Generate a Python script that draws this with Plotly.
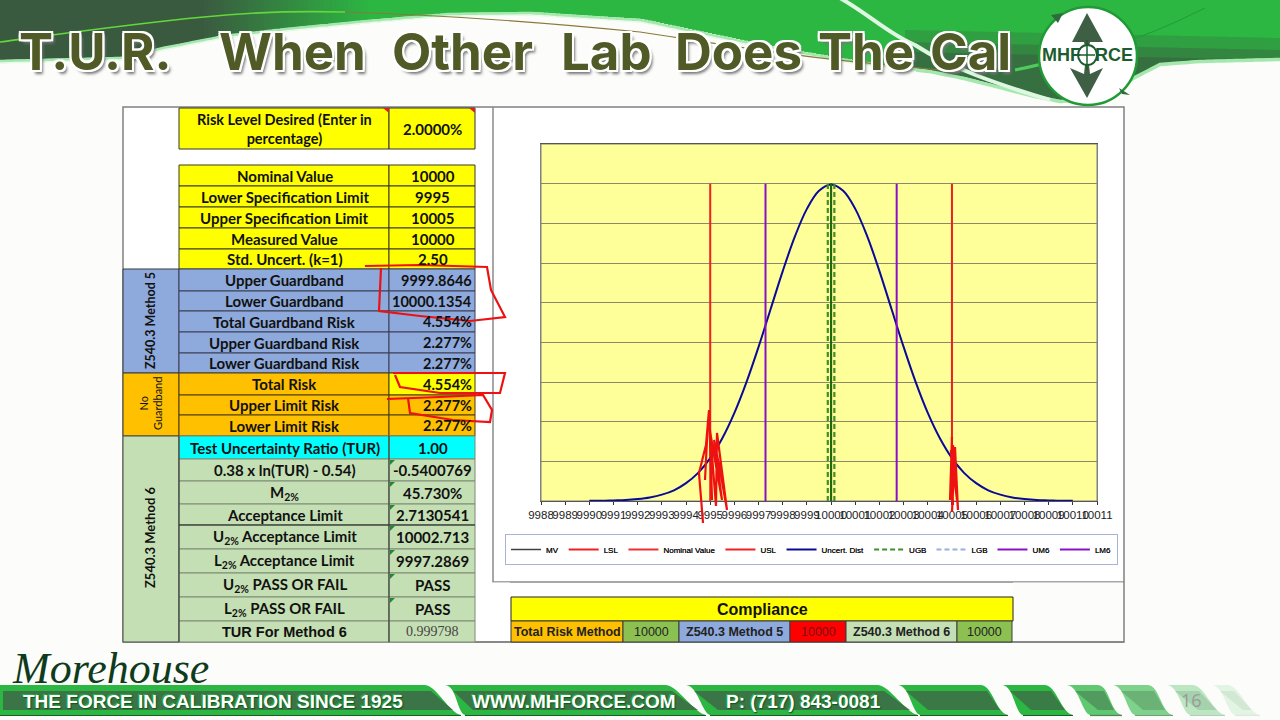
import numpy as np
import plotly.graph_objects as go

# ---- chart data
TICK_LABELS = [9988, 9989, 9990, 9991, 9992, 9993, 9994, 9995, 9996, 9997, 9998, 9999,
               10000, 10001, 10002, 10003, 10004, 10005, 10006, 10007, 10008, 10009, 10010, 10011]
CURVE_X = [9990, 9990.5, 9991, 9991.5, 9992, 9992.5, 9993, 9993.5, 9994, 9994.5, 9995, 9995.5,
           9996, 9996.5, 9997, 9997.5, 9998, 9998.5, 9999, 9999.5, 10000, 10000.5, 10001, 10001.5,
           10002, 10002.5, 10003, 10003.5, 10004, 10004.5, 10005, 10005.5, 10006, 10006.5,
           10007, 10007.5, 10008, 10008.5, 10009, 10009.5, 10010]
CURVE_Y = [0.0001, 0.0001, 0.0003, 0.0005, 0.001, 0.0018, 0.0032, 0.0054, 0.009, 0.0142, 0.0216, 0.0316,
           0.0444, 0.0599, 0.0777, 0.0968, 0.1159, 0.1333, 0.1473, 0.1564, 0.1596, 0.1564, 0.1473, 0.1333,
           0.1159, 0.0968, 0.0777, 0.0599, 0.0444, 0.0316, 0.0216, 0.0142, 0.009, 0.0054,
           0.0032, 0.0018, 0.001, 0.0005, 0.0003, 0.0001, 0.0001]
LINE_TOP = 0.16
MV = 10000
LSL = 9995
NOMINAL = 10000
USL = 10005
UGB = 9999.8646
LGB = 10000.1354
UM6 = 10002.713
LM6 = 9997.2869

# ---- table text
TITLE_WORDS = ["T.U.R.", "When", "Other", "Lab", "Does", "The", "Cal"]
TOP_LABELS = ["Nominal Value", "Lower Specification Limit", "Upper Specification Limit",
              "Measured Value", "Std. Uncert. (k=1)"]
TOP_VALUES = ["10000", "9995", "10005", "10000", "2.50"]
M5_LABELS = ["Upper Guardband", "Lower Guardband", "Total Guardband Risk",
             "Upper Guardband Risk", "Lower Guardband Risk"]
M5_VALUES = ["9999.8646", "10000.1354", "4.554%", "2.277%", "2.277%"]
NG_LABELS = ["Total Risk", "Upper Limit Risk", "Lower Limit Risk"]
NG_VALUES = ["4.554%", "2.277%", "2.277%"]
M6_LABELS = ["Test Uncertainty Ratio (TUR)", "0.38 x ln(TUR) - 0.54)", "M<sub>2%</sub>", "Acceptance Limit",
             "U<sub>2%</sub> Acceptance Limit", "L<sub>2%</sub> Acceptance Limit",
             "U<sub>2%</sub> PASS OR FAIL", "L<sub>2%</sub> PASS OR FAIL", "TUR For Method 6"]
M6_VALUES = ["1.00", "-0.5400769", "45.730%", "2.7130541", "10002.713", "9997.2869", "PASS", "PASS", "0.999798"]
COMPLIANCE = ["Total Risk Method", "10000", "Z540.3 Method 5", "10000", "Z540.3 Method 6", "10000"]

# ---- table layout, page pixels
TITLE_SPANS = [(25, 165), (217, 368), (391, 533), (561, 652), (675, 802), (821, 911), (930, 1011)]
TOP_EDGES = [165, 186, 207, 228, 249, 269]
M5_EDGES = [269, 291, 311, 332, 353, 373]
NG_EDGES = [373, 395, 415, 436]
M6_EDGES = [436, 459, 481, 504, 525, 549, 573, 597, 621, 642]
COMP_EDGES = [511, 623, 679, 790, 846, 957, 1012]
COMP_COLORS = ["#FFC000", "#8CC152", "#8EA9DB", "#FF0000", "#C5DFB4", "#8CC152"]

YELLOW = "#FFFF00"
BLUE = "#8EA9DB"
ORANGE = "#FFC000"
LGREEN = "#C5DFB4"
CYAN = "#00FFFF"
GREEN = "#2CB742"
DARK = "#3A5A40"
OLIVE = "#4F5A26"

shapes = []
notes = []


def rect(x0, y0, x1, y1, fill, line="#4a4a4a", width=1, layer="below"):
    shapes.append(dict(type="rect", xref="x", yref="y", x0=x0, y0=y0, x1=x1, y1=y1, fillcolor=fill,
                       line=dict(color=line, width=width), layer=layer))


def path(d, fill=None, line=None, width=1, opacity=1, layer="below"):
    s = dict(type="path", xref="x", yref="y", path=d, opacity=opacity, layer=layer,
             line=dict(color=line or "rgba(0,0,0,0)", width=width))
    if fill:
        s["fillcolor"] = fill
    shapes.append(s)


def poly(xs, ys):
    return "M" + " L".join(f"{a:.1f} {b:.1f}" for a, b in zip(xs, ys))


def text(x, y, t, size=15, color="#111111", font="Lato", weight=700, anchor="center", angle=0, shadow=None):
    f = dict(family=font, size=size, color=color, weight=weight)
    if shadow:
        f["shadow"] = shadow
    notes.append(dict(xref="x", yref="y", x=x, y=y, text=t, showarrow=False, xanchor=anchor, yanchor="middle",
                      textangle=angle, font=f, align="center"))


def mix(c1, c2, t):
    a = [int(c1[i:i + 2], 16) for i in (1, 3, 5)]
    b = [int(c2[i:i + 2], 16) for i in (1, 3, 5)]
    return "#" + "".join(f"{round(p + (q - p) * t):02x}" for p, q in zip(a, b))


# ---- header band
edge_x = [0, 122, 163, 224, 286, 367, 449, 530, 640, 750, 804, 857, 929, 964, 1035, 1060, 1100, 1133, 1160, 1200, 1280]
edge_y = [60, 57, 47, 35, 28, 20, 13, 12, 19, 42, 52, 61, 70, 77, 95, 100, 98, 77, 63, 60, 58]
xs = np.arange(0, 1284, 4)
ys = np.interp(xs, edge_x, edge_y)
for a, b in zip(xs, ys):
    t = min(max((a - 200) / 170, 0), 1)
    rect(a, -1, a + 4.5, b, mix(DARK, GREEN, t), line="rgba(0,0,0,0)", width=0)
for top, op in [(30, 0.25), (42, 0.35), (52, 0.5)]:
    lx = np.arange(905, 1284, 4)
    ly = np.interp(lx, edge_x, edge_y)
    # upper edge of the darker right part
    ux = np.interp(lx, [905, 1000, 1280], [top, top + 2, top + 8])
    ux = np.minimum(ux, ly)
    path(poly(list(lx) + list(lx[::-1]), list(ux) + list(ly[::-1])) + " Z", fill=DARK, opacity=op)
path(poly(xs, ys + 1.5), line="#A5E8AE", width=3.5)
path(poly(xs[:230], ys[:230] + 3), line="#E9F9EA", width=1.5)
path("M840 -2 C870 15 890 35 915 45 C950 68 1000 85 1050 100", line="#DFF7E2", width=4)
path("M0 42 C60 34 130 24 204 17 C250 12 300 11 345 12", line="#63D83A", width=1.6)
path("M345 12 C440 15 530 21 640 32 C720 44 800 58 900 66 L960 72", line="#8A7A3A", width=1.2)
path("M1015 70 C1035 66 1045 63 1060 60", line="#4FCB5C", width=3)
path("M1130 40 C1160 30 1180 20 1205 8", line="#239a37", width=1)

# ---- logo
shapes.append(dict(type="circle", xref="x", yref="y", x0=1039, y0=7, x1=1137, y1=105, fillcolor="white",
                   line=dict(color="#1f9a35", width=2.5), layer="below"))
path("M1087 13 L1103 42 L1090 42 L1089 47 L1085 47 L1084 42 L1072 42 Z", fill="#3F5F45")
path("M1087 98 L1070 68 L1084 74 L1085 65 L1089 65 L1090 74 L1103 68 Z", fill="#3F5F45")
shapes.append(dict(type="circle", xref="x", yref="y", x0=1078, y0=45, x1=1097, y1=65, fillcolor="white",
                   line=dict(color="#1d5c2e", width=2), layer="below"))
path("M1087 40 L1087 70 M1080 55 L1095 55", line="#1d5c2e", width=1.5)
path("M1051 15 L1063 13 L1058 23 Z", fill="#2f6b3d")
path("M1122 94 L1130 95 L1119 88 Z", fill="#2f6b3d")
text(1087.5, 55, "MHF<span style='color:rgba(0,0,0,0)'>O</span>RCE", size=18, color="#1d5c2e", font="Liberation Sans")

# ---- title
outline = ("2px 0 0 #fff, -2px 0 0 #fff, 0 2px 0 #fff, 0 -2px 0 #fff, 2px 2px 0 #fff, -2px -2px 0 #fff, "
           "2px -2px 0 #fff, -2px 2px 0 #fff, 3px 4px 3px #777")
for word, (x0, x1) in zip(TITLE_WORDS, TITLE_SPANS):
    text((x0 + x1) / 2, 51, word, size=51, color=OLIVE, font="Inter", weight=700, shadow=outline)

# ---- frame
rect(123, 107, 1124, 642, "white", line="#808080", width=1.5)
path("M493 107 L493 582 L1124 582", line="#8a8a8a", width=1.5)
rect(1013, 582.5, 1123, 641, "#FCFDFB", line="rgba(0,0,0,0)", width=0)
rect(476, 582.5, 510, 641, "white", line="rgba(0,0,0,0)", width=0)
path("M475 642 L1124 642", line="#808080", width=1.5)
rect(541, 144, 1097, 501, "#FFFF99", line="#808080", width=1)

# ---- left table
rect(179, 108, 389, 149, YELLOW, line="#333333")
rect(389, 108, 475, 149, YELLOW, line="#333333")
text(284.5, 129, "Risk Level Desired (Enter in<br>percentage)", size=14.5)
text(432.5, 129, "2.0000%", size=15)
path("M383 108 L389 108 L389 113 Z M469 108 L475 108 L475 113 Z", fill="#E02020")


def table_block(labels, values, edges, fill, border):
    for i, (lab, val) in enumerate(zip(labels, values)):
        rect(179, edges[i], 389, edges[i + 1], fill, line=border)
        rect(389, edges[i], 475, edges[i + 1], fill, line=border)
        mid = (edges[i] + edges[i + 1]) / 2
        text(284.5, mid, lab)
        text(432.5, mid, val)


table_block(TOP_LABELS, TOP_VALUES, TOP_EDGES, YELLOW, "#3a3a20")

rect(123, 269, 179, 373, BLUE, line="#3a3a3a")
text(150, 321, "Z540.3 Method 5", size=12.5, angle=-90)
for i, (lab, val) in enumerate(zip(M5_LABELS, M5_VALUES)):
    rect(179, M5_EDGES[i], 389, M5_EDGES[i + 1], BLUE, line="#3a3f55")
    rect(389, M5_EDGES[i], 475, M5_EDGES[i + 1], BLUE, line="#3a3f55")
    mid = (M5_EDGES[i] + M5_EDGES[i + 1]) / 2
    text(284.5, mid, lab)
    text(474, mid, val, anchor="right", size=14.5)

rect(123, 373, 179, 436, ORANGE, line="#3a3a3a")
text(150, 404, "No<br>Guardband", size=11, angle=-90, weight=400)
for i, (lab, val) in enumerate(zip(NG_LABELS, NG_VALUES)):
    rect(179, NG_EDGES[i], 389, NG_EDGES[i + 1], ORANGE, line="#4a3c10")
    rect(389, NG_EDGES[i], 475, NG_EDGES[i + 1], YELLOW if i == 0 else ORANGE, line="#4a3c10")
    mid = (NG_EDGES[i] + NG_EDGES[i + 1]) / 2
    text(284.5, mid, lab)
    text(474, mid, val, anchor="right", size=14.5)

rect(123, 436, 179, 642, LGREEN, line="#4a4a4a")
text(150, 538, "Z540.3 Method 6", size=13, angle=-90)
for i, (lab, val) in enumerate(zip(M6_LABELS, M6_VALUES)):
    fill = CYAN if i == 0 else LGREEN
    rect(179, M6_EDGES[i], 389, M6_EDGES[i + 1], fill, line="#7d8a74")
    rect(389, M6_EDGES[i], 475, M6_EDGES[i + 1], fill, line="#7d8a74")
    mid = (M6_EDGES[i] + M6_EDGES[i + 1]) / 2
    last = i == len(M6_LABELS) - 1
    text(284.5, mid, lab, font="Liberation Sans" if last else "Lato", size=14.5 if last else 15)
    text(432.5, mid, val, font="Liberation Serif" if last else "Lato", size=14 if last else 15,
         weight=400 if last else 700, color="#444444" if last else "#111111")
    if 1 <= i <= 7:
        e = M6_EDGES[i] + 1
        path(f"M390 {e} L395 {e} L390 {e + 5} Z", fill="#1f8a2e")
path("M179 525 L475 525", line="#222222", width=1)
path("M179 436 L179 642 M389 436 L389 642", line="#333333", width=1)

# ---- compliance table
rect(511, 597, 1013, 621, YELLOW, line="#222222")
text(762, 609, "Compliance", size=16, font="Liberation Sans")
for i, (lab, col) in enumerate(zip(COMPLIANCE, COMP_COLORS)):
    rect(COMP_EDGES[i], 621, COMP_EDGES[i + 1], 642, col, line="#3a3a3a")
    text((COMP_EDGES[i] + COMP_EDGES[i + 1]) / 2, 631.5, lab, size=12.5, font="Liberation Sans",
         color="#7a1010" if col == "#FF0000" else "#222222", weight=700 if i % 2 == 0 else 400)

# ---- footer
bars = [(-5, 437, -5, 461, 1, 1), (445, 678, 465, 706, 1, 1), (686, 890, 710, 918, 1, 1),
        (898, 993, 920, 1008, 1, .95), (1002, 1057, 1023, 1073, 1, .9), (1067, 1110, 1090, 1122, .75, .55),
        (1113, 1160, 1135, 1173, .6, .35), (1167, 1205, 1190, 1225, .3, .2), (1212, 1240, 1235, 1260, .12, .1)]
for tl, tr, bl, br, op, inner in bars:
    path(f"M{tl} 685 L{tr - 12} 685 C{tr} 686 {br - 12} 713 {br} 715 L{bl} 715 C{bl - 8} 713 {tl + 12} 686 {tl} 685 Z",
         fill=GREEN, opacity=op)
    path(f"M{tl + 8} 691 L{tr - 6} 691 L{br - 8} 710 L{bl + 8} 710 Z", fill="#3E6A48", opacity=inner * 0.85)
    path(f"M{bl} 715.5 L{br} 715.5", line="#1c5a2a", width=1.2, opacity=op)
glow = "0 0 2px #0f5a1f, 1px 1px 1px #0f5a1f, -1px -1px 1px #2cd04a"
text(213, 701, "THE FORCE IN CALIBRATION SINCE 1925", size=19, color="white", font="Liberation Sans", shadow=glow)
text(574, 701, "WWW.MHFORCE.COM", size=19, color="white", font="Liberation Sans", shadow=glow)
text(803, 701, "P: (717) 843-0081", size=19, color="white", font="Liberation Sans", shadow=glow)
text(1191, 700, "16", size=18, color="#9a9a9a", font="Open Sans", weight=400)
text(110, 668, "Morehouse", size=44, color="#0f3a1c", font="Liberation Serif", weight=400)
notes[-1]["font"]["style"] = "italic"

# ---- red pen marks
PEN = "#EE1111"
pen_marks = [
    "M365 266 L420 265 L487 267 L491 290 L505 317 L470 321 L420 316 L379 311 L381 268",
    "M393 373 L505 373 L500 393 L440 393 L400 387 L395 375",
    "M387 399 L440 397 L483 395 L492 410 L490 422 L453 420 L410 413 L408 398",
    "M703 523 L699 473 L706 445 L709 410 L712 500 L710 430 L716 506 L717 433 L727 510 L720 470 L714 440 L722 500 L708 420 L705 480",
    "M952 437 L950 500 L953 445 L958 510 L955 447 L952 512 L954 470 L957 500 L951 450 L953 505",
]
for d in pen_marks:
    path(d, line=PEN, width=2.2, layer="above")

# ---- the chart itself
fig = go.Figure()


def vline(name, x, color, dash="solid", width=2, shown=True):
    fig.add_trace(go.Scatter(x=[x, x], y=[0, LINE_TOP], name=name, mode="lines", xaxis="x2", yaxis="y2",
                             line=dict(color=color, width=width, dash=dash), showlegend=shown))


vline("MV", MV, "#404040", width=1.5)
vline("LSL", LSL, "#EE2020")
vline("Nominal Value", NOMINAL, "#EE3030", shown=True)
vline("USL", USL, "#EE2020")
fig.add_trace(go.Scatter(x=CURVE_X, y=CURVE_Y, name="Uncert. Dist", mode="lines", xaxis="x2", yaxis="y2",
                         line=dict(color="#0A0A9A", width=2, shape="spline")))
vline("UGB", UGB, "#3F8F2A", dash="5px,3px", width=2.2)
vline("LGB", LGB, "#3F8F2A", dash="5px,3px", width=2.2, shown=False)
fig.add_trace(go.Scatter(x=[None], y=[None], name="LGB", mode="lines", xaxis="x2", yaxis="y2",
                         line=dict(color="#9AAEDB", width=2.2, dash="5px,3px")))
vline("UM6", UM6, "#8A10C8")
vline("LM6", LM6, "#8A10C8")
# dark green centre line drawn last over the dashes
fig.add_trace(go.Scatter(x=[MV, MV], y=[0, LINE_TOP], mode="lines", xaxis="x2", yaxis="y2", showlegend=False,
                         line=dict(color="#1A6A10", width=2)))

fig.update_layout(
    width=1280, height=720,
    margin=dict(l=0, r=0, t=0, b=0, autoexpand=False),
    autosize=False,
    paper_bgcolor="#FCFDFB",
    plot_bgcolor="rgba(0,0,0,0)",
    shapes=shapes,
    annotations=notes,
    xaxis=dict(domain=[0, 1], range=[0, 1280], visible=False, fixedrange=True, anchor="y"),
    yaxis=dict(domain=[0, 1], range=[720, 0], visible=False, fixedrange=True, anchor="x"),
    xaxis2=dict(domain=[541 / 1280, 1097 / 1280], range=[9988, 10011], anchor="y2", tickmode="array",
                tickvals=TICK_LABELS, ticktext=[str(t) for t in TICK_LABELS], tickangle=0, ticks="outside", ticklen=3,
                tickcolor="#333333", showgrid=False, zeroline=False, showline=True, linecolor="#555555", mirror=True,
                tickfont=dict(family="Liberation Sans", size=11.5, color="#222222"), fixedrange=True),
    yaxis2=dict(domain=[1 - 501 / 720, 1 - 144 / 720], range=[0, 0.18], anchor="x2", dtick=0.02, showticklabels=False,
                ticks="", gridcolor="#8A8A6A", gridwidth=1, zeroline=False, showline=True, linecolor="#808080",
                mirror=True, fixedrange=True),
    legend=dict(orientation="h", x=505 / 1280, y=1 - 534 / 720, xanchor="left", yanchor="top", bgcolor="white",
                bordercolor="#A8B4D4", borderwidth=1,
                font=dict(family="Liberation Sans", size=8, color="#111111", shadow="0 0 0.5px #111111"),
                itemwidth=30, traceorder="normal"),
    showlegend=True,
)

fig.write_html("out.html", config=dict(displayModeBar=False), post_script="document.body.style.margin='0';")
